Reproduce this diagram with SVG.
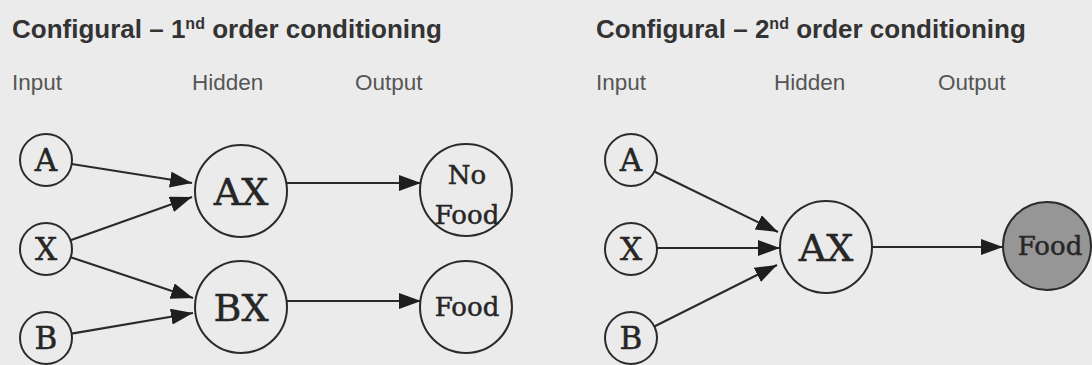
<svg xmlns="http://www.w3.org/2000/svg" width="1092" height="365" viewBox="0 0 1092 365">
<style>
.title{font-family:"Liberation Sans",Arial,sans-serif;font-weight:bold;font-size:26px;fill:#333}
.sup{font-size:16px}
.lab{font-family:"Liberation Sans",Arial,sans-serif;font-size:22.5px;fill:#555}
.node circle{fill:none;stroke:#2a2a2a;stroke-width:2}
.node text{font-family:"DejaVu Serif","Liberation Serif",serif;fill:#262626;stroke:#262626;stroke-width:0.5;text-anchor:middle}
.in text{font-size:31px}
.hid text{font-size:38px}
.out text{font-size:26px}
.edge{stroke:#2a2a2a;stroke-width:2.2;fill:none;marker-end:url(#ah)}
</style>
<defs>
<marker id="ah" markerUnits="userSpaceOnUse" markerWidth="24" markerHeight="18" refX="22" refY="8" orient="auto">
<path d="M0,0 L22,8 L0,16 Z" fill="#1e1e1e"/>
</marker>
</defs>
<rect width="1092" height="365" fill="#ebebeb"/>
<text class="title" x="12" y="38">Configural – 1<tspan class="sup" dy="-9">nd</tspan><tspan dy="9"> order conditioning</tspan></text>
<text class="lab" x="12" y="90">Input</text>
<text class="lab" x="192" y="90">Hidden</text>
<text class="lab" x="355" y="90">Output</text>
<text class="title" x="596" y="38">Configural – 2<tspan class="sup" dy="-9">nd</tspan><tspan dy="9"> order conditioning</tspan></text>
<text class="lab" x="596" y="90">Input</text>
<text class="lab" x="774" y="90">Hidden</text>
<text class="lab" x="938" y="90">Output</text>
<g id="connectors">
<line class="edge" x1="71.7" y1="164" x2="192" y2="183"/>
<line class="edge" x1="70.5" y1="240.3" x2="192" y2="197"/>
<line class="edge" x1="70.7" y1="257.2" x2="193" y2="298"/>
<line class="edge" x1="71.6" y1="333.6" x2="193" y2="313"/>
<line class="edge" x1="286.3" y1="183" x2="421" y2="183"/>
<line class="edge" x1="286" y1="301" x2="421" y2="301"/>
<line class="edge" x1="654.3" y1="171.4" x2="778" y2="232"/>
<line class="edge" x1="657" y1="248" x2="780" y2="248"/>
<line class="edge" x1="654.3" y1="326.4" x2="777" y2="265"/>
<line class="edge" x1="872" y1="247" x2="1003" y2="247"/>
</g>
<g id="L-A" class="node in"><circle cx="46" cy="160" r="26"/><text x="46" y="171">A</text></g>
<g id="L-X" class="node in"><circle cx="46" cy="249" r="26"/><text x="46" y="260">X</text></g>
<g id="L-B" class="node in"><circle cx="46" cy="338" r="26"/><text x="46" y="349">B</text></g>
<g id="L-AX" class="node hid"><circle cx="241" cy="191" r="46"/><text x="241" y="205">AX</text></g>
<g id="L-BX" class="node hid"><circle cx="241" cy="307" r="46"/><text x="241" y="321">BX</text></g>
<g id="L-NoFood" class="node out"><circle cx="466" cy="190" r="46"/><text x="467" y="184">No</text><text x="467" y="224">Food</text></g>
<g id="L-Food" class="node out"><circle cx="466" cy="307" r="46"/><text x="467" y="316">Food</text></g>
<g id="R-A" class="node in"><circle cx="631" cy="160" r="26"/><text x="631" y="171">A</text></g>
<g id="R-X" class="node in"><circle cx="631" cy="249" r="26"/><text x="631" y="260">X</text></g>
<g id="R-B" class="node in"><circle cx="631" cy="338" r="26"/><text x="631" y="349">B</text></g>
<g id="R-AX" class="node hid"><circle cx="826" cy="247" r="46"/><text x="826" y="261">AX</text></g>
<g id="R-Food" class="node out"><circle cx="1047" cy="246" r="44" style="fill:#969696"/><text x="1050" y="255">Food</text></g>
</svg>
